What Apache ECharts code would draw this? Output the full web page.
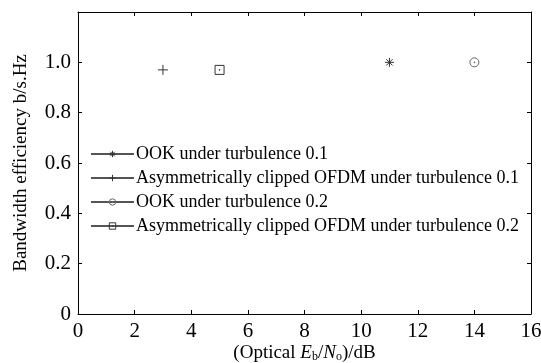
<!DOCTYPE html>
<html>
<head>
<meta charset="utf-8">
<script src="https://cdn.jsdelivr.net/npm/echarts@6/dist/echarts.min.js"></script>
<style>html,body{margin:0;padding:0;background:#fff}#c{width:541px;height:363px}</style>
</head>
<body>
<div id="c"></div>
<script>
var seriesNames = [
  'OOK under turbulence 0.1',
  'Asymmetrically clipped OFDM under turbulence 0.1',
  'OOK under turbulence 0.2',
  'Asymmetrically clipped OFDM under turbulence 0.2'
];
var ook01 = [[11, 1.0]];
var aco01 = [[3, 0.97]];
var ook02 = [[14, 1.0]];
var aco02 = [[5, 0.97]];
var xTicks = [0, 2, 4, 6, 8, 10, 12, 14, 16];
var yTicks = [0, 0.2, 0.4, 0.6, 0.8, 1.0, 1.2];
var yTickLabels = ['0', '0.2', '0.4', '0.6', '0.8', '1.0', ''];

var FONT = '"Liberation Serif", "Times New Roman", serif';
var C = '#333';
var starPath = 'path://M5,0L5,10M0,5L10,5M1.5,1.5L8.5,8.5M8.5,1.5L1.5,8.5';
var plusPath = 'path://M5,0L5,10M0,5L10,5';
var circlePath = 'path://M0,5A5,5,0,1,1,10,5A5,5,0,1,1,0,5ZM4.6,4.6L5.4,4.6L5.4,5.4L4.6,5.4Z';
var squarePath = 'path://M0,0L10,0L10,10L0,10ZM4.6,4.6L5.4,4.6L5.4,5.4L4.6,5.4Z';

function mk(name, data, symbol, size, bc) {
  return {
    name: name, type: 'line', data: data,
    symbol: symbol, symbolSize: size, showSymbol: true,
    lineStyle: { color: '#555', width: 1 },
    itemStyle: { color: 'none', borderColor: bc, borderWidth: 1 },
    emphasis: { disabled: true }, animation: false
  };
}

var chart = echarts.init(document.getElementById('c'));
function axisCommon() {
  return {
    axisLine: { show: true, onZero: false, lineStyle: { color: '#000', width: 1 } },
    axisTick: { show: true, inside: true, length: 4, lineStyle: { color: '#000' } },
    splitLine: { show: false }
  };
}
chart.setOption({
  backgroundColor: '#fff',
  animation: false,
  grid: { left: 78, right: 10, top: 12, bottom: 49, outerBoundsMode: 'none', containLabel: false },
  legend: {
    orient: 'vertical', left: 85, top: 140,
    itemWidth: 43, itemHeight: 8, itemGap: 6,
    itemStyle: { borderWidth: 1 },
    textStyle: { fontFamily: FONT, fontSize: 18, color: '#000', padding: [0, 0, 0, -3] },
    data: seriesNames
  },
  xAxis: [
    Object.assign({
      type: 'value', min: 0, max: 16, interval: 2, position: 'bottom',
      name: '(Optical {i|E}{s|b}{n|/}{i|N}{s|o}{n|)/dB}',
      nameLocation: 'middle', nameGap: 29, nameMoveOverlap: false,
      nameTextStyle: {
        fontFamily: FONT, fontSize: 19, color: '#000', verticalAlign: 'top',
        rich: {
          i: { fontFamily: FONT, fontSize: 19, fontStyle: 'italic', color: '#000' },
          s: { fontFamily: FONT, fontSize: 12, color: '#000', verticalAlign: 'bottom', padding: [8, 0, 0, 0] },
          n: { fontFamily: FONT, fontSize: 19, color: '#000' }
        }
      },
      axisLabel: { fontFamily: FONT, fontSize: 21, color: '#000', margin: 7,
        formatter: function (v) { return xTicks.indexOf(v) >= 0 ? String(v) : ''; } }
    }, axisCommon()),
    Object.assign({
      type: 'value', min: 0, max: 16, interval: 2, position: 'top',
      axisLabel: { show: false }
    }, axisCommon())
  ],
  yAxis: [
    Object.assign({
      type: 'value', min: 0, max: 1.2, interval: 0.2, position: 'left',
      name: 'Bandwidth efficiency b/s.Hz', nameLocation: 'middle', nameGap: 47, nameMoveOverlap: false,
      nameTextStyle: { fontFamily: FONT, fontSize: 19, color: '#000' },
      axisLabel: { fontFamily: FONT, fontSize: 21, color: '#000', margin: 7,
        formatter: function (v) {
          var idx = yTicks.findIndex(function (t) { return Math.abs(t - v) < 1e-6; });
          return idx >= 0 ? yTickLabels[idx] : '';
        } }
    }, axisCommon()),
    Object.assign({
      type: 'value', min: 0, max: 1.2, interval: 0.2, position: 'right',
      axisLabel: { show: false }
    }, axisCommon())
  ],
  series: [
    mk(seriesNames[0], ook01, starPath, 9, C),
    mk(seriesNames[1], aco01, plusPath, 10, C),
    mk(seriesNames[2], ook02, circlePath, 9, '#666'),
    mk(seriesNames[3], aco02, squarePath, 9, C)
  ]
});
</script>
</body>
</html>
